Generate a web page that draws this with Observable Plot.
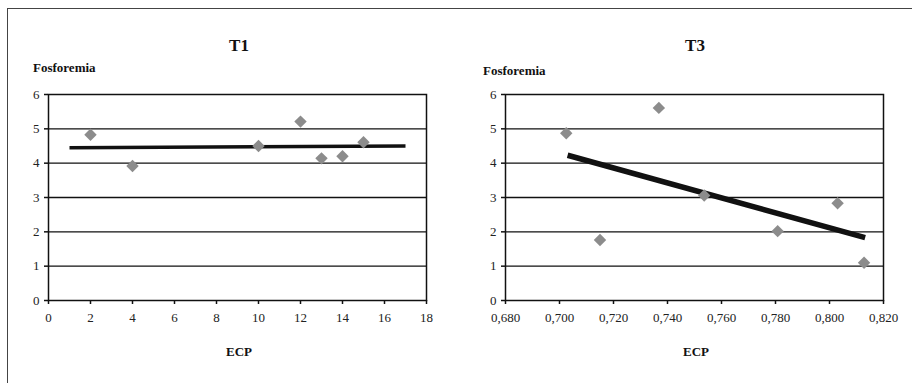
<!DOCTYPE html>
<html>
<head>
<meta charset="utf-8">
<script src="https://cdn.jsdelivr.net/npm/d3@7"></script>
<script src="https://cdn.jsdelivr.net/npm/@observablehq/plot@0.6"></script>
<style>
  html, body { margin: 0; padding: 0; background: #fff; }
  #root { position: relative; width: 912px; height: 383px; overflow: hidden; }
  #root, #root div, #root svg, #root svg text { font-family: 'Liberation Serif', 'Times New Roman', serif !important; }
  .frameTop { position: absolute; left: 7px; top: 8px; width: 910px; height: 0; border-top: 1.5px solid #444; }
  .frameLeft { position: absolute; left: 7px; top: 8px; width: 0; height: 380px; border-left: 1.5px solid #444; }
  .txt { position: absolute; font-weight: bold; color: #111; white-space: nowrap; line-height: 1; }
  .title { font-size: 17px; transform: translate(-50%, -50%); }
  .ylab { font-size: 13px; transform: translate(0, -50%); }
  .xlab { font-size: 13px; transform: translate(-50%, -50%); }
  .chart { position: absolute; top: 80px; }
</style>
</head>
<body>
<div id="root">
  <div class="frameTop"></div>
  <div class="frameLeft"></div>
</div>
<script>
// ---- T1 data ----
const t1Title = "T1";
const t1X = [2, 4, 10, 12, 13, 14, 15];
const t1Y = [4.83, 3.92, 4.5, 5.21, 4.14, 4.2, 4.61];
const t1TrendX = [1, 17];
const t1TrendY = [4.45, 4.5];
const t1XTicks = [0, 2, 4, 6, 8, 10, 12, 14, 16, 18];

// ---- T3 data ----
const t3Title = "T3";
const t3X = [0.7025, 0.715, 0.7368, 0.7536, 0.7808, 0.803, 0.8128];
const t3Y = [4.87, 1.76, 5.61, 3.06, 2.02, 2.83, 1.1];
const t3TrendX = [0.703, 0.8132];
const t3TrendY = [4.23, 1.83];
const t3XTicks = [0.68, 0.70, 0.72, 0.74, 0.76, 0.78, 0.80, 0.82];

const yTicks = [0, 1, 2, 3, 4, 5, 6];
const yLabel = "Fosforemia";
const xLabel = "ECP";

const root = document.getElementById("root");

function addText(cls, text, x, y) {
  const d = document.createElement("div");
  d.className = "txt " + cls;
  d.textContent = text;
  d.style.left = x + "px";
  d.style.top = y + "px";
  root.appendChild(d);
}

function makeChart(xs, ys, tx, ty, xTicks, xDomain, xFmt, trendWidth) {
  const pts = xs.map((x, i) => ({x, y: ys[i]}));
  const trend = tx.map((x, i) => ({x, y: ty[i]}));
  return Plot.plot({
    width: 456,
    height: 250,
    marginTop: 14,
    marginBottom: 30,
    marginLeft: 48,
    marginRight: 30,
    style: "font-family: 'Liberation Serif', serif; font-size: 13px; color: #222; background: transparent;",
    x: {domain: xDomain, label: null},
    y: {domain: [0, 6], label: null},
    marks: [
      Plot.ruleY([1, 2, 3, 4, 5], {stroke: "#111", strokeWidth: 1.3}),
      Plot.frame({stroke: "#111", strokeWidth: 1.5}),
      Plot.axisX({ticks: xTicks, tickFormat: xFmt, tickSize: 4, tickPadding: 8, stroke: "#111", strokeWidth: 1.5, fill: "#222", label: null}),
      Plot.axisY({ticks: yTicks, tickFormat: d => String(d), tickSize: 4, tickPadding: 5, stroke: "#111", strokeWidth: 1.5, fill: "#222", label: null}),
      Plot.line(trend, {x: "x", y: "y", stroke: "#111", strokeWidth: trendWidth, strokeLinecap: "butt"}),
      Plot.dot(pts, {x: "x", y: "y", symbol: "diamond2", r: 5.6, fill: "#8c8c8c", stroke: "none"})
    ]
  });
}

const c1 = makeChart(t1X, t1Y, t1TrendX, t1TrendY, t1XTicks, [0, 18], d => String(d), 3.5);
c1.classList.add("chart");
c1.style.left = "0px";
root.appendChild(c1);

const c3 = makeChart(t3X, t3Y, t3TrendX, t3TrendY, t3XTicks, [0.68, 0.82], d => d.toFixed(3).replace(".", ","), 5.5);
c3.classList.add("chart");
c3.style.left = "457px";
root.appendChild(c3);

addText("title", t1Title, 239, 45);
addText("ylab", yLabel, 33, 67);
addText("xlab", xLabel, 239, 351);

addText("title", t3Title, 695, 45);
addText("ylab", yLabel, 483, 70);
addText("xlab", xLabel, 696, 351);
</script>
</body>
</html>
